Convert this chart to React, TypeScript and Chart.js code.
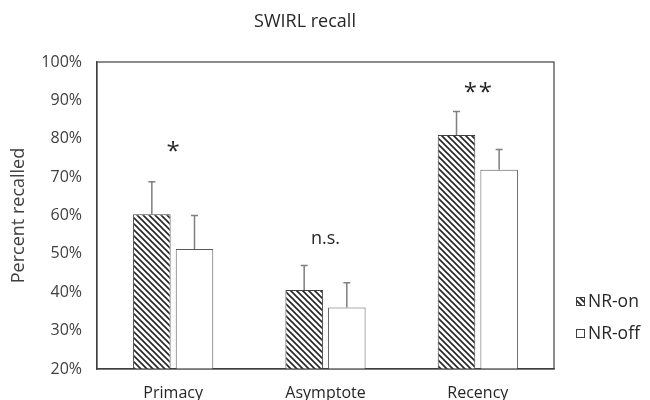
import React, { useEffect, useRef } from "react";
import { Chart, registerables } from "chart.js";

Chart.register(...registerables);

const categories = ["Primacy", "Asymptote", "Recency"];
const seriesNames = ["NR-on", "NR-off"];
const nrOn = [0.603, 0.406, 0.81];
const nrOnErr = [0.085, 0.064, 0.061];
const nrOff = [0.513, 0.36, 0.719];
const nrOffErr = [0.087, 0.065, 0.053];
const sigLabels = ["*", "n.s.", "**"];
const sigY = [0.775, 0.539, 0.93];
const yTicks = [0.2, 0.3, 0.4, 0.5, 0.6, 0.7, 0.8, 0.9, 1.0];

const FONT = "'Open Sans', 'Noto Sans', sans-serif";

function makeHatch(): CanvasPattern | string {
  const c = document.createElement("canvas");
  c.width = 6;
  c.height = 6;
  const g = c.getContext("2d");
  if (!g) return "#888";
  g.fillStyle = "#ffffff";
  g.fillRect(0, 0, 6, 6);
  g.strokeStyle = "#262626";
  g.lineWidth = 1.6;
  g.beginPath();
  g.moveTo(-1, -1);
  g.lineTo(7, 7);
  g.moveTo(-1, 5);
  g.lineTo(1, 7);
  g.moveTo(5, -1);
  g.lineTo(7, 1);
  g.stroke();
  const p = g.createPattern(c, "repeat");
  return p || "#888";
}

export default function App() {
  const ref = useRef<HTMLCanvasElement | null>(null);

  useEffect(() => {
    document.body.style.margin = "0";
    const canvas = ref.current;
    if (!canvas) return;
    let chart: Chart | null = null;
    let cancelled = false;
    const hatch = makeHatch();
    const errs = [nrOnErr, nrOffErr];

    const extras = {
      id: "extras",
      afterDatasetsDraw(c: any) {
        const ctx = c.ctx;
        const yScale = c.scales.y;
        const xScale = c.scales.x;
        const area = c.chartArea;
        // error bars
        ctx.save();
        ctx.strokeStyle = "#7f7f7f";
        ctx.lineWidth = 1.5;
        c.data.datasets.forEach((ds: any, di: number) => {
          const meta = c.getDatasetMeta(di);
          meta.data.forEach((el: any, i: number) => {
            const v = ds.data[i];
            const top = yScale.getPixelForValue(v + errs[di][i]);
            ctx.beginPath();
            ctx.moveTo(el.x, el.y);
            ctx.lineTo(el.x, top);
            ctx.moveTo(el.x - 3.5, top);
            ctx.lineTo(el.x + 3.5, top);
            ctx.stroke();
          });
        });
        ctx.restore();
        // frame
        ctx.save();
        ctx.strokeStyle = "#404040";
        ctx.lineWidth = 1.2;
        ctx.strokeRect(area.left, area.top, area.right - area.left, area.bottom - area.top);
        ctx.restore();
        // significance labels
        ctx.save();
        ctx.fillStyle = "#262626";
        ctx.textAlign = "center";
        ctx.textBaseline = "middle";
        sigLabels.forEach((lab, i) => {
          const x = xScale.getPixelForValue(i);
          const y = yScale.getPixelForValue(sigY[i]);
          if (lab === "n.s.") {
            ctx.font = `18px ${FONT}`;
            ctx.fillText(lab, x, y);
          } else {
            ctx.font = `24px ${FONT}`;
            const n = lab.length;
            for (let k = 0; k < n; k++) {
              ctx.fillText("*", x + (k - (n - 1) / 2) * 15, y + 4);
            }
          }
        });
        ctx.restore();
        // title
        ctx.save();
        ctx.fillStyle = "#262626";
        ctx.font = `18px ${FONT}`;
        ctx.textAlign = "center";
        ctx.textBaseline = "middle";
        ctx.fillText("SWIRL recall", 305, 22);
        ctx.restore();
        // legend
        ctx.save();
        ctx.font = `17.5px ${FONT}`;
        ctx.textBaseline = "middle";
        ctx.textAlign = "left";
        const ly = [301, 333];
        seriesNames.forEach((name, i) => {
          const bx = 576;
          const by = ly[i] - 4;
          ctx.fillStyle = i === 0 ? (hatch as any) : "#ffffff";
          ctx.fillRect(bx, by, 8, 8);
          ctx.strokeStyle = "#404040";
          ctx.lineWidth = 1;
          ctx.strokeRect(bx + 0.5, by + 0.5, 8, 8);
          ctx.fillStyle = "#262626";
          ctx.fillText(name, 588, ly[i] + 1);
        });
        ctx.restore();
      },
    };

    const build = () => {
      if (cancelled) return;
      chart = new Chart(canvas, {
        type: "bar",
        data: {
          labels: categories,
          datasets: [
            {
              label: seriesNames[0],
              data: nrOn,
              backgroundColor: hatch as any,
              borderColor: "#404040",
              borderWidth: 1,
              categoryPercentage: 0.56,
              barPercentage: 0.88,
            },
            {
              label: seriesNames[1],
              data: nrOff,
              backgroundColor: "#ffffff",
              borderColor: "#595959",
              borderWidth: 1,
              categoryPercentage: 0.56,
              barPercentage: 0.88,
            },
          ],
        },
        options: {
          animation: false,
          responsive: false,
          devicePixelRatio: 1,
          layout: { padding: { left: 0, right: 96, top: 62, bottom: 0 } },
          plugins: {
            legend: { display: false },
            title: { display: false },
            tooltip: { enabled: false },
          },
          scales: {
            x: {
              grid: { display: false, drawTicks: false },
              border: { display: true, color: "#404040", width: 1.2 },
              ticks: {
                color: "#262626",
                font: { family: FONT, size: 16 },
                padding: 15,
                maxRotation: 0,
              },
              afterFit: (s: any) => {
                s.height = 31;
              },
            },
            y: {
              min: 0.2,
              max: 1.0,
              afterBuildTicks: (s: any) => {
                s.ticks = yTicks.map((v) => ({ value: v }));
              },
              grid: { display: false, drawTicks: false },
              border: { display: true, color: "#404040", width: 1.2 },
              ticks: {
                color: "#404040",
                font: { family: FONT, size: 16 },
                padding: 15,
                callback: (v: any) => `${Math.round(Number(v) * 100)}%`,
              },
              title: {
                display: true,
                text: "Percent recalled",
                color: "#404040",
                font: { family: FONT, size: 18 },
                padding: { top: 8, bottom: 0 },
              },
              afterFit: (s: any) => {
                s.width = 97;
              },
            },
          },
        },
        plugins: [extras],
      });
    };

    const fonts: any = (document as any).fonts;
    if (fonts && fonts.load) {
      Promise.all([
        fonts.load("16px 'Open Sans'"),
        fonts.load("18px 'Open Sans'"),
      ])
        .catch(() => null)
        .then(build);
    } else {
      build();
    }
    return () => {
      cancelled = true;
      if (chart) chart.destroy();
    };
  }, []);

  return (
    <div style={{ width: 650, height: 400 }}>
      <canvas ref={ref} width={650} height={400} style={{ display: "block" }} />
    </div>
  );
}
